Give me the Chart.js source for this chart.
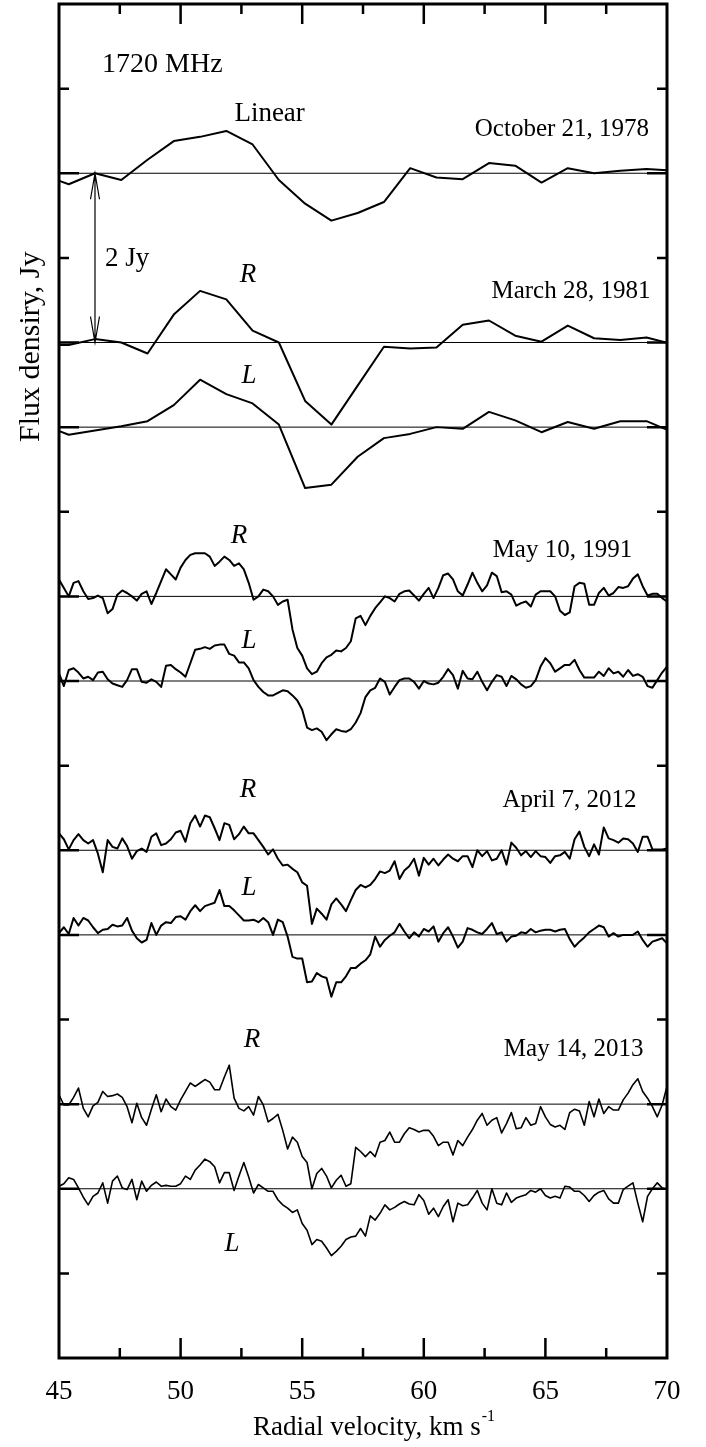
<!DOCTYPE html>
<html>
<head>
<meta charset="utf-8">
<script src="https://cdn.jsdelivr.net/npm/chart.js@4.4.1/dist/chart.umd.min.js"></script>
<style>
  html, body { margin: 0; padding: 0; background: #fff; }
  canvas { display: block; }
</style>
</head>
<body>
<canvas id="spectraChart" width="706" height="1447"></canvas>
<script>
// velocity channels, km/s
const velCoarse = [44.32, 45.40, 46.48, 47.56, 48.64, 49.72, 50.80, 51.88, 52.96, 54.04, 55.12, 56.20, 57.28,
  58.36, 59.44, 60.52, 61.60, 62.68, 63.76, 64.84, 65.92, 67.00, 68.08, 69.16, 70.24];
const VEL_START = 45, VEL_STEP = 0.2, VEL_COUNT = 126;
const velFine = Array.from({ length: VEL_COUNT }, (_, i) => +(VEL_START + i * VEL_STEP).toFixed(2));

// flux relative to each baseline, Jy
const linear1978 = [-0.02, -0.13, 0, -0.08, 0.16, 0.38, 0.43, 0.50, 0.34, -0.08, -0.36, -0.56, -0.47, -0.34,
  0.06, -0.05, -0.07, 0.12, 0.09, -0.11, 0.06, 0.00, 0.03, 0.05, 0.03];
const r1981 = [-0.03, -0.03, 0.04, 0.00, -0.13, 0.33, 0.61, 0.51, 0.14, 0.00, -0.69, -0.97, -0.51, -0.05,
  -0.07, -0.06, 0.21, 0.26, 0.08, 0.01, 0.20, 0.05, 0.03, 0.06, -0.02];
const l1981 = [0.03, -0.09, -0.04, 0.01, 0.07, 0.26, 0.56, 0.39, 0.28, 0.03, -0.72, -0.68, -0.35, -0.13,
  -0.08, 0.00, -0.02, 0.18, 0.08, -0.06, 0.06, -0.02, 0.07, 0.07, -0.06];

const r1991 = [
  0.20, 0.10, 0.00, 0.16, 0.18, 0.06, -0.03, -0.02, 0.01, -0.02,
  -0.20, -0.15, 0.02, 0.07, 0.04, 0.00, -0.05, 0.03, 0.06, -0.09,
  0.04, 0.18, 0.32, 0.26, 0.20, 0.34, 0.43, 0.49, 0.51, 0.51,
  0.51, 0.47, 0.36, 0.41, 0.47, 0.43, 0.36, 0.39, 0.32, 0.16,
  -0.04, 0.00, 0.08, 0.06, 0.00, -0.10, -0.06, -0.04, -0.39, -0.61,
  -0.70, -0.85, -0.92, -0.89, -0.79, -0.72, -0.69, -0.64, -0.65, -0.61,
  -0.53, -0.26, -0.23,
  -0.34, -0.23, -0.14, -0.07, 0.00, -0.02, -0.06, 0.03, 0.06, 0.07,
  0.01, -0.05, 0.03, 0.10, -0.02, 0.10, 0.25, 0.27, 0.20, 0.06,
  0.01, 0.14, 0.28, 0.16, 0.06, 0.13, 0.28, 0.24, 0.05, 0.06,
  0.02, -0.11, -0.08, -0.06, -0.12, 0.02, 0.06, 0.06, 0.06, 0.00,
  -0.17, -0.22, -0.19, 0.12, 0.16, 0.15, -0.10, -0.10, 0.04, 0.10,
  0.01, 0.04, 0.11, 0.10, 0.12, 0.21, 0.26, 0.12, 0.01, 0.03,
  0.03, -0.02, -0.06];
const l1991 = [
  0.09, -0.06, 0.13, 0.15, 0.10, 0.03, 0.05, 0.01, 0.10, 0.11,
  0.02, -0.03, -0.05, -0.07, 0.01, 0.14, 0.14, -0.01, -0.02, 0.02,
  -0.01, -0.07, 0.18, 0.19, 0.14, 0.10, 0.05, 0.21, 0.37, 0.38,
  0.40, 0.38, 0.42, 0.43, 0.43, 0.32, 0.30, 0.22, 0.22, 0.15,
  0.01, -0.07, -0.13, -0.17, -0.17, -0.14, -0.11, -0.12, -0.17, -0.23,
  -0.34, -0.55, -0.58, -0.56, -0.60, -0.70, -0.63, -0.57, -0.59, -0.60,
  -0.57, -0.49, -0.38,
  -0.19, -0.11, -0.08, 0.03, -0.01, -0.16, -0.07, 0.01, 0.03, 0.03,
  -0.01, -0.09, 0.00, -0.03, -0.04, -0.02, 0.05, 0.14, 0.07, -0.09,
  0.12, 0.03, 0.02, 0.11, -0.01, -0.11, -0.01, 0.07, 0.05, -0.06,
  0.06, 0.02, -0.04, -0.08, -0.06, 0.01, 0.17, 0.27, 0.21, 0.11,
  0.15, 0.19, 0.19, 0.25, 0.13, 0.04, 0.04, 0.04, 0.11, 0.06,
  0.15, 0.09, 0.11, 0.05, 0.13, 0.06, 0.08, 0.05, -0.06, -0.08,
  0.01, 0.10, 0.17];

const r2012 = [
  0.20, 0.13, 0.01, 0.12, 0.19, 0.12, 0.08, 0.12, -0.04, -0.26,
  0.12, 0.04, 0.02, 0.14, 0.05, -0.10, -0.01, 0.02, -0.02, 0.16,
  0.20, 0.06, 0.08, 0.13, 0.21, 0.23, 0.10, 0.32, 0.41, 0.28,
  0.41, 0.39, 0.26, 0.12, 0.32, 0.30, 0.13, 0.19, 0.28, 0.20,
  0.20, 0.12, 0.04, -0.05, 0.01, -0.10, -0.18, -0.17, -0.22, -0.26,
  -0.38, -0.42, -0.87, -0.69, -0.75, -0.82, -0.64, -0.57, -0.64, -0.72,
  -0.59, -0.47, -0.41,
  -0.44, -0.41, -0.34, -0.25, -0.27, -0.24, -0.13, -0.34, -0.24, -0.19,
  -0.10, -0.30, -0.09, -0.17, -0.10, -0.18, -0.11, -0.05, -0.10, -0.13,
  -0.07, -0.07, -0.20, 0.00, -0.07, -0.01, -0.12, -0.10, 0.00, -0.17,
  0.09, 0.03, -0.06, -0.01, -0.08, -0.01, -0.07, -0.08, -0.15, -0.07,
  -0.06, -0.02, -0.10, 0.13, 0.22, 0.04, -0.07, 0.07, -0.05, 0.27,
  0.14, 0.12, 0.09, 0.14, 0.13, 0.08, -0.02, 0.16, 0.16, 0.01,
  0.01, 0.01, 0.02];
const l2012 = [
  0.02, 0.09, 0.01, 0.20, 0.11, 0.20, 0.17, 0.09, 0.02, 0.06,
  0.07, 0.12, 0.10, 0.11, 0.20, 0.05, -0.04, -0.09, -0.06, 0.14,
  0.00, 0.11, 0.15, 0.14, 0.21, 0.22, 0.18, 0.28, 0.35, 0.28,
  0.34, 0.36, 0.38, 0.53, 0.34, 0.34, 0.29, 0.23, 0.17, 0.17,
  0.18, 0.15, 0.20, 0.15, 0.00, 0.18, 0.15, -0.02, -0.26, -0.28,
  -0.28, -0.56, -0.55, -0.45, -0.49, -0.51, -0.73, -0.56, -0.56, -0.49,
  -0.39, -0.39, -0.34,
  -0.30, -0.23, -0.02, -0.14, -0.06, -0.01, 0.03, 0.13, 0.04, -0.04,
  0.03, -0.02, 0.07, 0.04, 0.10, -0.08, 0.02, 0.09, -0.02, -0.15,
  -0.08, 0.08, 0.06, 0.03, 0.01, 0.07, 0.14, 0.01, 0.03, -0.08,
  -0.02, -0.01, 0.03, 0.02, 0.07, 0.03, 0.05, 0.06, 0.06, 0.04,
  0.06, 0.07, -0.05, -0.14, -0.08, -0.03, 0.03, 0.07, 0.11, 0.09,
  -0.02, 0.02, -0.02, 0.00, 0.00, 0.00, 0.04, -0.06, -0.14, -0.08,
  -0.06, -0.04, -0.10];

const r2013 = [
  0.11, -0.01, -0.01, 0.08, 0.19, -0.05, -0.15, -0.02, 0.02, 0.15,
  0.09, 0.10, 0.12, 0.08, -0.03, -0.22, 0.01, -0.16, -0.25, -0.06,
  0.11, -0.09, 0.06, -0.03, -0.07, 0.05, 0.15, 0.25, 0.21, 0.25,
  0.29, 0.26, 0.17, 0.17, 0.32, 0.46, 0.07, -0.05, -0.08, -0.03,
  -0.13, 0.09, -0.01, -0.21, -0.17, -0.12, -0.31, -0.53, -0.39, -0.45,
  -0.62, -0.69, -1.00, -0.82, -0.76, -0.85, -0.99, -0.90, -0.84, -0.97,
  -0.94, -0.51, -0.56,
  -0.62, -0.56, -0.62, -0.45, -0.43, -0.33, -0.45, -0.45, -0.35, -0.28,
  -0.30, -0.33, -0.31, -0.31, -0.38, -0.49, -0.45, -0.45, -0.60, -0.43,
  -0.49, -0.39, -0.30, -0.19, -0.11, -0.25, -0.19, -0.16, -0.34, -0.23,
  -0.10, -0.29, -0.28, -0.16, -0.25, -0.23, -0.03, -0.15, -0.24, -0.27,
  -0.25, -0.30, -0.10, -0.06, -0.08, -0.25, 0.03, -0.15, 0.06, -0.11,
  -0.03, -0.07, -0.07, 0.05, 0.13, 0.23, 0.30, 0.15, 0.07, -0.03,
  -0.15, -0.01, 0.21];
const l2013 = [
  0.03, 0.06, 0.13, 0.11, 0.01, -0.10, -0.19, -0.09, -0.05, 0.07,
  -0.17, 0.09, 0.15, 0.01, -0.01, 0.11, -0.13, 0.09, -0.03, 0.04,
  0.08, 0.03, 0.04, 0.03, 0.03, 0.06, 0.15, 0.11, 0.22, 0.28,
  0.35, 0.32, 0.26, 0.07, 0.19, 0.19, -0.02, 0.15, 0.31, 0.14,
  -0.05, 0.05, 0.01, -0.03, -0.03, -0.13, -0.19, -0.23, -0.28, -0.25,
  -0.41, -0.49, -0.66, -0.60, -0.62, -0.70, -0.79, -0.74, -0.68, -0.60,
  -0.57, -0.56, -0.47,
  -0.56, -0.32, -0.37, -0.29, -0.19, -0.25, -0.22, -0.18, -0.15, -0.18,
  -0.19, -0.07, -0.14, -0.30, -0.23, -0.33, -0.21, -0.13, -0.39, -0.17,
  -0.20, -0.19, -0.11, -0.02, -0.17, -0.25, 0.00, -0.17, -0.19, -0.05,
  -0.16, -0.11, -0.09, -0.07, -0.02, -0.04, 0.00, -0.08, -0.11, -0.09,
  -0.11, 0.03, 0.02, -0.03, -0.03, -0.08, -0.15, -0.08, -0.04, -0.02,
  -0.12, -0.17, -0.17, -0.01, 0.03, 0.07, -0.17, -0.39, -0.09, 0.00,
  0.07, 0.01, -0.01];

// vertical offsets of each spectrum (Jy) on the stacked plot
const offsets = { linear1978: 14, r1981: 12, l1981: 11, r1991: 9, l1991: 8, r2012: 6, l2012: 5, r2013: 3, l2013: 2 };
const minorYTicks = [1, 4, 7, 10, 13, 15];
const xMajorTicks = [50, 55, 60, 65];
const xMinorTicks = [47.5, 52.5, 57.5, 62.5, 67.5];

const series = [
  { key: 'linear1978', vel: velCoarse, flux: linear1978, width: 2 },
  { key: 'r1981', vel: velCoarse, flux: r1981, width: 2 },
  { key: 'l1981', vel: velCoarse, flux: l1981, width: 2 },
  { key: 'r1991', vel: velFine, flux: r1991, width: 2 },
  { key: 'l1991', vel: velFine, flux: l1991, width: 2 },
  { key: 'r2012', vel: velFine, flux: r2012, width: 2 },
  { key: 'l2012', vel: velFine, flux: l2012, width: 2 },
  { key: 'r2013', vel: velFine, flux: r2013, width: 1.6 },
  { key: 'l2013', vel: velFine, flux: l2013, width: 1.6 },
];

const labels = [
  { text: '1720 MHz', v: 46.77, jy: 15.20, font: '28px "Liberation Serif"', align: 'left' },
  { text: 'Linear', v: 53.66, jy: 14.62, font: '27px "Liberation Serif"', align: 'center' },
  { text: '2 Jy', v: 46.89, jy: 12.90, font: '27px "Liberation Serif"', align: 'left' },
  { text: 'October 21, 1978', v: 65.68, jy: 14.44, font: '25px "Liberation Serif"', align: 'center' },
  { text: 'March 28, 1981', v: 66.05, jy: 12.53, font: '25px "Liberation Serif"', align: 'center' },
  { text: 'May 10, 1991', v: 65.70, jy: 9.47, font: '25px "Liberation Serif"', align: 'center' },
  { text: 'April 7, 2012', v: 65.99, jy: 6.51, font: '25px "Liberation Serif"', align: 'center' },
  { text: 'May 14, 2013', v: 66.16, jy: 3.57, font: '25px "Liberation Serif"', align: 'center' },
  { text: 'R', v: 52.77, jy: 12.72, font: 'italic 27px "Liberation Serif"', align: 'center' },
  { text: 'L', v: 52.81, jy: 11.52, font: 'italic 27px "Liberation Serif"', align: 'center' },
  { text: 'R', v: 52.40, jy: 9.63, font: 'italic 27px "Liberation Serif"', align: 'center' },
  { text: 'L', v: 52.81, jy: 8.39, font: 'italic 27px "Liberation Serif"', align: 'center' },
  { text: 'R', v: 52.77, jy: 6.63, font: 'italic 27px "Liberation Serif"', align: 'center' },
  { text: 'L', v: 52.81, jy: 5.47, font: 'italic 27px "Liberation Serif"', align: 'center' },
  { text: 'R', v: 52.94, jy: 3.68, font: 'italic 27px "Liberation Serif"', align: 'center' },
  { text: 'L', v: 52.11, jy: 1.26, font: 'italic 27px "Liberation Serif"', align: 'center' },
];

const datasets = [];
series.forEach(s => {
  const off = offsets[s.key];
  datasets.push({
    label: s.key + ' baseline',
    data: [{ x: 45, y: off }, { x: 70, y: off }],
    borderColor: '#000',
    borderWidth: 1,
  });
  datasets.push({
    label: s.key,
    data: s.vel.map((v, i) => ({ x: v, y: off + s.flux[i] })),
    borderColor: '#000',
    borderWidth: s.width,
    borderJoinStyle: 'round',
  });
});

const decorations = {
  id: 'decorations',
  afterDraw(chart) {
    const { ctx, chartArea: area, scales: { x, y } } = chart;
    ctx.save();
    ctx.strokeStyle = '#000';
    ctx.fillStyle = '#000';

    // frame
    ctx.lineWidth = 3;
    ctx.strokeRect(area.left, area.top, area.right - area.left, area.bottom - area.top);

    // inward ticks
    ctx.lineWidth = 2.5;
    const hTick = (val, len) => {
      const px = x.getPixelForValue(val);
      ctx.beginPath();
      ctx.moveTo(px, area.bottom); ctx.lineTo(px, area.bottom - len);
      ctx.moveTo(px, area.top); ctx.lineTo(px, area.top + len);
      ctx.stroke();
    };
    const vTick = (val, len) => {
      const py = y.getPixelForValue(val);
      ctx.beginPath();
      ctx.moveTo(area.left, py); ctx.lineTo(area.left + len, py);
      ctx.moveTo(area.right, py); ctx.lineTo(area.right - len, py);
      ctx.stroke();
    };
    xMajorTicks.forEach(v => hTick(v, 20));
    xMinorTicks.forEach(v => hTick(v, 10));
    Object.values(offsets).forEach(v => vTick(v, 20));
    minorYTicks.forEach(v => vTick(v, 10));

    // 2 Jy scale arrow
    ctx.lineWidth = 1.2;
    const ax = x.getPixelForValue(46.48);
    const aTop = y.getPixelForValue(offsets.linear1978);
    const aBot = y.getPixelForValue(offsets.r1981);
    ctx.beginPath();
    ctx.moveTo(ax, aTop); ctx.lineTo(ax, aBot);
    ctx.moveTo(ax - 4.5, aTop + 26); ctx.lineTo(ax, aTop); ctx.lineTo(ax + 4.5, aTop + 26);
    ctx.moveTo(ax - 4.5, aBot - 26); ctx.lineTo(ax, aBot); ctx.lineTo(ax + 4.5, aBot - 26);
    ctx.stroke();

    // texts
    ctx.textBaseline = 'alphabetic';
    labels.forEach(l => {
      ctx.font = l.font;
      ctx.textAlign = l.align;
      ctx.fillText(l.text, x.getPixelForValue(l.v), y.getPixelForValue(l.jy));
    });

    // x axis title with superscript
    const main = 'Radial velocity, km s';
    ctx.font = '27px "Liberation Serif"';
    const wMain = ctx.measureText(main).width;
    ctx.font = '16px "Liberation Serif"';
    const wSup = ctx.measureText('-1').width;
    const cx = x.getPixelForValue(57.93);
    const startX = cx - (wMain + wSup) / 2;
    ctx.textAlign = 'left';
    ctx.font = '27px "Liberation Serif"';
    ctx.fillText(main, startX, 1435);
    ctx.font = '16px "Liberation Serif"';
    ctx.fillText('-1', startX + wMain + 1, 1421);

    // y axis title
    ctx.save();
    ctx.translate(area.left - 20, y.getPixelForValue(11.95));
    ctx.rotate(-Math.PI / 2);
    ctx.font = '30px "Liberation Serif"';
    ctx.textAlign = 'center';
    ctx.fillText('Flux densiry, Jy', 0, 0);
    ctx.restore();

    ctx.restore();
  }
};

new Chart(document.getElementById('spectraChart'), {
  type: 'line',
  data: { datasets },
  options: {
    responsive: false,
    animation: false,
    layout: { padding: { left: 59, right: 39, top: 4, bottom: 0 } },
    scales: {
      x: {
        type: 'linear',
        min: 45,
        max: 70,
        grid: { display: false, drawTicks: false },
        border: { display: false },
        ticks: {
          stepSize: 5,
          padding: 18,
          maxRotation: 0,
          color: '#000',
          font: { family: 'Liberation Serif', size: 27 },
        },
        afterFit: (scale) => { scale.height = 89; },
      },
      y: {
        display: false,
        min: 0,
        max: 16,
      },
    },
    elements: {
      point: { radius: 0 },
      line: { tension: 0 },
    },
    plugins: {
      legend: { display: false },
      tooltip: { enabled: false },
    },
  },
  plugins: [decorations],
});
</script>
</body>
</html>
